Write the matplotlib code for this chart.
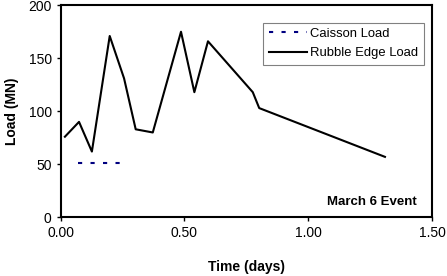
import matplotlib
matplotlib.use("Agg")
import matplotlib.pyplot as plt

plt.rcParams['font.family'] = ['Liberation Sans', 'DejaVu Sans']

# Rubble edge load over the event
rubble_t = [0.017, 0.074, 0.126, 0.198, 0.256, 0.303, 0.372, 0.486, 0.540, 0.595, 0.776, 0.802, 1.31]
rubble_load = [76, 90, 62, 171, 131, 83, 80, 175, 118, 166, 118, 103, 57]

# Caisson load (short flat segment)
caisson_t = [0.069, 0.256]
caisson_load = [51, 51]

xticks = [0.0, 0.5, 1.0, 1.5]
xticklabels = ['0.00', '0.50', '1.00', '1.50']
yticks = [0, 50, 100, 150, 200]

fig = plt.figure(figsize=(4.47, 2.76), dpi=100)
ax = fig.add_axes([0.1358, 0.2127, 0.9664 - 0.1358, 0.981 - 0.2127])

ax.plot(caisson_t, caisson_load, color='#000080', lw=1.5, linestyle=(0, (2, 4)),
        label='Caisson Load')
ax.plot(rubble_t, rubble_load, color='black', lw=1.5, label='Rubble Edge Load')

ax.set_xlim(0, 1.5)
ax.set_ylim(0, 200)
ax.set_xticks(xticks)
ax.set_xticklabels(xticklabels)
ax.set_yticks(yticks)
ax.tick_params(direction='out', length=3, width=1, labelsize=10, colors='black')
for s in ax.spines.values():
    s.set_linewidth(1.5)

ax.set_xlabel('Time (days)', fontsize=10, fontweight='bold', labelpad=14)
ax.set_ylabel('Load (MN)', fontsize=10, fontweight='bold', labelpad=7)

leg = ax.legend(loc='upper right', bbox_to_anchor=(0.978, 0.918), fontsize=9.4,
                fancybox=False, framealpha=1, edgecolor='#808080',
                handlelength=2.9, handletextpad=0.3, borderpad=0.4,
                labelspacing=0.55, borderaxespad=0)
leg.get_frame().set_linewidth(0.8)

ax.text(0.96, 0.058, 'March 6 Event', transform=ax.transAxes, ha='right', va='baseline',
        fontsize=9.5, fontweight='bold')

fig.savefig('out.png', dpi=100)
